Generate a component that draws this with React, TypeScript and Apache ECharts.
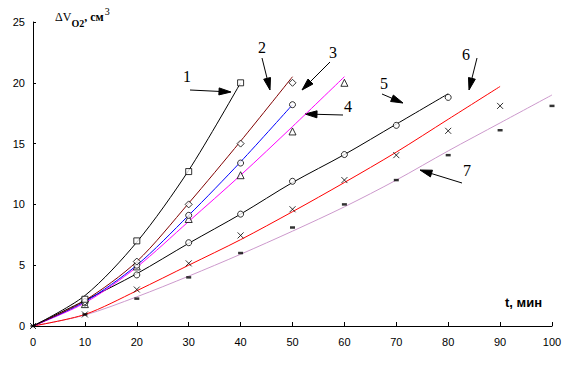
import React, { useEffect, useRef } from "react";
import * as echarts from "echarts";

// Time axis (min)
const T = [0, 10, 20, 30, 40, 50, 60, 70, 80, 90, 100];
const xTicks = [0, 10, 20, 30, 40, 50, 60, 70, 80, 90, 100];
const yTicks = [0, 5, 10, 15, 20, 25];

// Fitted curves (values at T[0..n])
const curve1 = [0, 2.5, 6.9, 12.8, 20.0];
const curve2 = [0, 2.1, 5.3, 10.1, 15.2, 20.5];
const curve3 = [0, 2.0, 5.0, 9.1, 13.5, 18.2];
const curve4 = [0, 1.9, 4.85, 8.6, 12.4, 16.4, 20.5];
const curve5 = [0, 2.1, 4.3, 6.8, 9.2, 11.8, 14.1, 16.6, 19.1];
const curve6 = [0, 0.95, 2.9, 5.0, 7.1, 9.4, 11.8, 14.3, 17.0, 19.7];
const curve7 = [0, 0.9, 2.4, 4.1, 5.9, 7.8, 9.8, 12.0, 14.4, 16.7, 19.0];

// Measured points
const pts1T = [10, 20, 30, 40];
const pts1V = [2.2, 7.0, 12.7, 20.0];
const pts2T = [10, 20, 30, 40, 50];
const pts2V = [2.0, 5.3, 10.0, 15.0, 20.0];
const pts3T = [10, 20, 30, 40, 50];
const pts3V = [1.9, 5.0, 9.1, 13.4, 18.2];
const pts4T = [10, 20, 30, 40, 50, 60];
const pts4V = [1.8, 4.9, 8.8, 12.4, 16.0, 20.0];
const pts5T = [10, 20, 30, 40, 50, 60, 70, 80];
const pts5V = [2.0, 4.2, 6.85, 9.2, 11.9, 14.1, 16.5, 18.8];
const pts6T = [0, 10, 20, 30, 40, 50, 60, 70, 80, 90];
const pts6V = [0, 0.95, 3.0, 5.15, 7.45, 9.6, 12.0, 14.05, 16.05, 18.1];
const pts7T = [0, 10, 20, 30, 40, 50, 60, 70, 80, 90, 100];
const pts7V = [0, 0.95, 2.25, 4.0, 6.0, 8.1, 10.0, 12.0, 14.05, 16.1, 18.1];

const curveLabels = ["1", "2", "3", "4", "5", "6", "7"];

const pair = (ts: number[], vs: number[]) => vs.map((v, i) => [ts[i], v]);

function arrow(x1: number, y1: number, x2: number, y2: number) {
  const dx = x2 - x1;
  const dy = y2 - y1;
  const len = Math.sqrt(dx * dx + dy * dy);
  const ux = dx / len;
  const uy = dy / len;
  const hl = 12;
  const hw = 3.5;
  const bx = x2 - ux * hl;
  const by = y2 - uy * hl;
  return [
    {
      type: "line",
      shape: { x1, y1, x2: bx, y2: by },
      style: { stroke: "#000", lineWidth: 1 },
      silent: true,
    },
    {
      type: "polygon",
      shape: {
        points: [
          [x2, y2],
          [bx - uy * hw, by + ux * hw],
          [bx + uy * hw, by - ux * hw],
        ],
      },
      style: { fill: "#000", stroke: "#000", lineWidth: 1 },
      silent: true,
    },
  ];
}

export default function App() {
  const ref = useRef<HTMLDivElement>(null);
  useEffect(() => {
    if (!ref.current) return;
    const chart = echarts.init(ref.current, null, { renderer: "svg" });

    const lineSeries = (data: number[], color: string) => ({
      type: "line",
      data: pair(T, data),
      smooth: 0.3,
      showSymbol: false,
      symbol: "none",
      lineStyle: { color, width: 1 },
      z: 2,
      silent: true,
    });
    const hollow = { color: "#fff", borderColor: "#000", borderWidth: 1 };
    const markSeries = (ts: number[], vs: number[], symbol: string, size: any, itemStyle: any) => ({
      type: "scatter",
      data: pair(ts, vs),
      symbol,
      symbolSize: size,
      itemStyle,
      z: 3,
      silent: true,
    });

    const labelPos = [
      [187, 76],
      [262, 47],
      [333, 52],
      [348, 106],
      [384, 83],
      [466, 54],
      [467, 170],
    ];
    const arrows = [
      [190, 90, 231, 92],
      [262, 58, 270, 90],
      [330, 62, 302, 90],
      [343, 115, 305, 114],
      [382, 94, 403, 103],
      [477, 58, 469, 90],
      [462, 183, 420, 170],
    ];

    const serif = "'Liberation Serif', 'Times New Roman', serif";
    const graphics: any[] = [];
    curveLabels.forEach((t, i) => {
      graphics.push({
        type: "text",
        x: labelPos[i][0],
        y: labelPos[i][1],
        style: {
          text: t,
          font: "16px " + serif,
          fill: "#000",
          align: "center",
          verticalAlign: "middle",
        },
        silent: true,
      });
    });
    arrows.forEach((a) => graphics.push(...arrow(a[0], a[1], a[2], a[3])));
    graphics.push(
      {
        type: "text",
        x: 55,
        y: 6,
        style: {
          text: "{a|ΔV}{s|O2}{b|, см}{p|3}",
          fill: "#000",
          verticalAlign: "top",
          rich: {
            a: { fontSize: 12, fontFamily: serif, lineHeight: 22, verticalAlign: "middle", fill: "#000" },
            s: { fontSize: 10, fontWeight: "bold", fontFamily: serif, lineHeight: 12, verticalAlign: "bottom", fill: "#000" },
            b: { fontSize: 12, fontWeight: "bold", fontFamily: serif, lineHeight: 22, verticalAlign: "middle", fill: "#000" },
            p: { fontSize: 10, fontFamily: serif, lineHeight: 4, verticalAlign: "top", fill: "#000", padding: [0, 0, 0, 1] },
          },
        },
        silent: true,
      },
      {
        type: "text",
        x: 505,
        y: 302,
        style: { text: "t, мин", font: "bold 13px 'Liberation Sans', Arial, sans-serif", fill: "#000", verticalAlign: "middle" },
        silent: true,
      }
    );

    const xPath = "path://M0,0L10,10M10,0L0,10";

    chart.setOption({
      animation: false,
      backgroundColor: "#fff",
      grid: { left: 33, right: 22, top: 22, bottom: 49 },
      xAxis: {
        type: "value",
        min: xTicks[0],
        max: xTicks[xTicks.length - 1],
        interval: 10,
        axisLine: { lineStyle: { color: "#000", width: 1 } },
        axisTick: { inside: true, length: 4, lineStyle: { color: "#000" } },
        axisLabel: { color: "#000", fontSize: 11, fontFamily: "'Liberation Sans', Arial, sans-serif", margin: 10 },
        splitLine: { show: false },
      },
      yAxis: {
        type: "value",
        min: yTicks[0],
        max: yTicks[yTicks.length - 1],
        interval: 5,
        axisLine: { show: true, lineStyle: { color: "#000", width: 1 } },
        axisTick: { show: true, inside: true, length: 3, lineStyle: { color: "#000" } },
        axisLabel: { color: "#000", fontSize: 11, fontFamily: "'Liberation Sans', Arial, sans-serif", margin: 8 },
        splitLine: { show: false },
      },
      series: [
        lineSeries(curve7, "#cc99cc"),
        lineSeries(curve6, "#ff0000"),
        lineSeries(curve5, "#000000"),
        lineSeries(curve4, "#ff00ff"),
        lineSeries(curve3, "#0000ff"),
        lineSeries(curve2, "#800000"),
        lineSeries(curve1, "#000000"),
        markSeries(pts7T, pts7V, "rect", [5, 2.5], { color: "#000" }),
        markSeries(pts6T, pts6V, xPath, 6, { color: "none", borderColor: "#000", borderWidth: 1 }),
        markSeries(pts5T, pts5V, "circle", 6, hollow),
        markSeries(pts4T, pts4V, "triangle", 7, hollow),
        markSeries(pts3T, pts3V, "circle", 6, hollow),
        markSeries(pts2T, pts2V, "diamond", 7, hollow),
        markSeries(pts1T, pts1V, "rect", 6, hollow),
      ],
      graphic: graphics,
    });
    return () => chart.dispose();
  }, []);
  return <div ref={ref} style={{ width: 574, height: 375, position: "absolute", left: 0, top: 0 }} />;
}
